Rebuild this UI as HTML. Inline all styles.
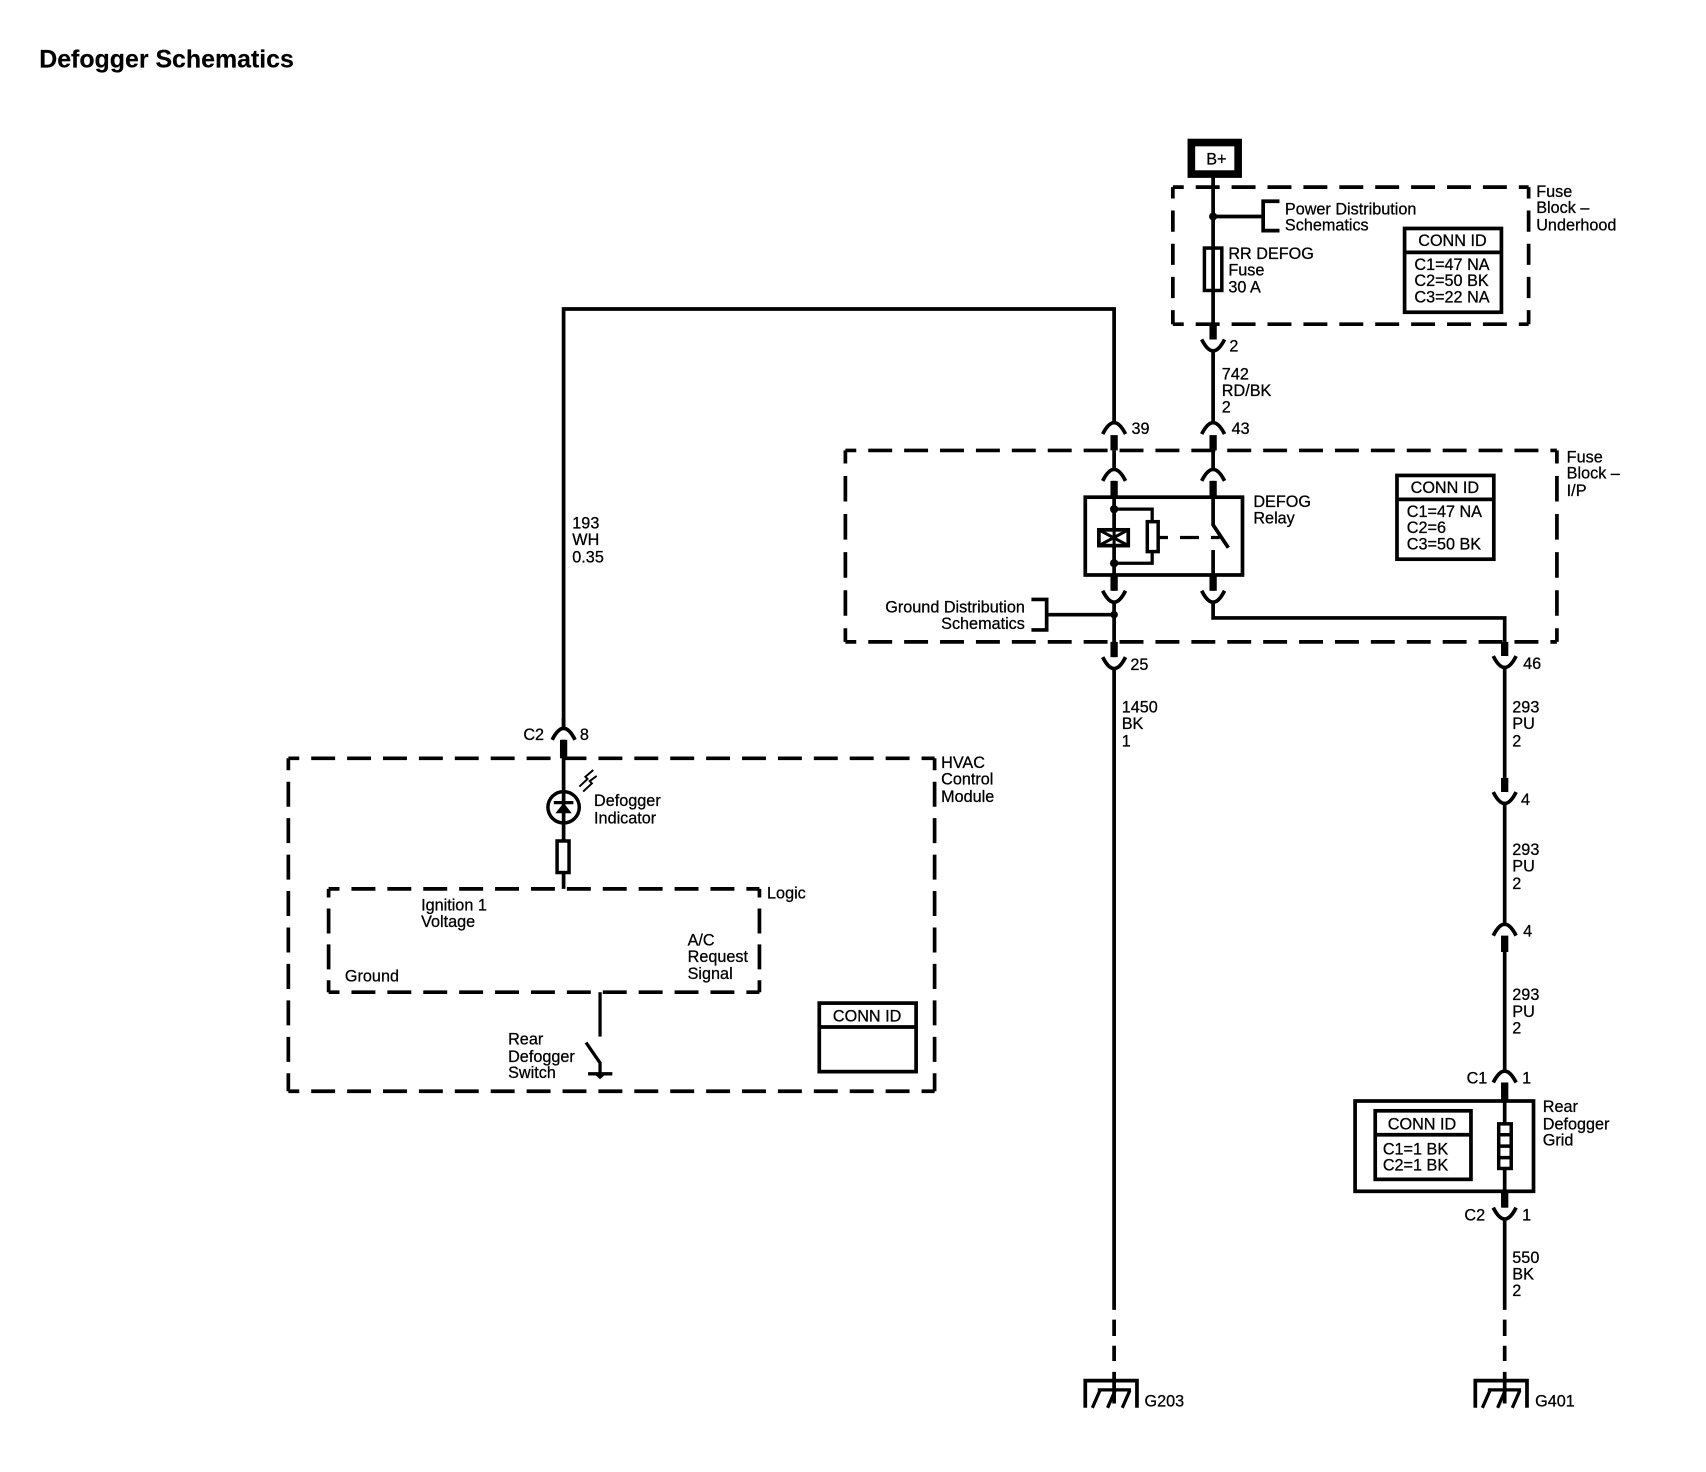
<!DOCTYPE html>
<html lang="en"><head><meta charset="utf-8"><title>Defogger Schematics</title>
<style>
html,body{margin:0;padding:0;background:#fff;width:1706px;height:1472px;overflow:hidden}
svg{display:block}
text{font-family:"Liberation Sans",Arial,sans-serif;font-size:14.9px;fill:#000;stroke:#000;stroke-width:.25}
.t{font-size:22.9px;font-weight:bold;stroke-width:.15}
.w,.b,.a,.d,.v,.n{fill:none;stroke:#000}
.w{stroke-width:3.4}.b{stroke-width:6.7}.a{stroke-width:3.4}.n{stroke-width:3}
.d{stroke-width:3.4;stroke-dasharray:22 11;stroke-dashoffset:12}
.v{stroke-width:3.4}
.f{fill:#fff;stroke:#000;stroke-width:3.2}
</style></head><body>
<svg width="1706" height="1472" viewBox="0 0 1568 1353" xmlns="http://www.w3.org/2000/svg">
<rect width="1568" height="1353" fill="#fff"/>
<text class="t" x="36" y="62">Defogger Schematics</text>

<!-- dashed boxes -->
<path class="d" d="M1078 172H1405M1078 298H1405"/>
<path class="v" stroke-dasharray="19.5 11" stroke-dashoffset="9" d="M1078 172V298M1405 172V298"/>
<path class="d" d="M777 414H1431M777 590H1431"/>
<path class="v" stroke-dasharray="23.5 11.5" stroke-dashoffset="11.5" d="M777 414V590M1431 414V590"/>
<path class="d" d="M265 697H859M265 1003H859"/>
<path class="v" stroke-dasharray="23 10.5" stroke-dashoffset="12" d="M265 697V1003M859 697V1003"/>
<path class="d" d="M302 817H698M302 912H698"/>
<path class="v" stroke-dasharray="23 10" stroke-dashoffset="15" d="M302 817V912M698 817V912"/>

<!-- B+ -->
<rect x="1095" y="131" width="43" height="29" fill="#fff" stroke="#000" stroke-width="7"/>
<text x="1118" y="151" text-anchor="middle">B+</text>

<!-- wire B+ to relay -->
<path class="w" d="M1115 163V312M1115 322.5V388.5M1115 414V431.5M1115 442V482.5L1129 503.5M1115 505.5V543M1115 553.5V568H1383V590"/>
<path class="b" d="M1115 298V312M1115 400V414M1115 442V457M1115 529V543"/>
<path class="a" d="M1104.5 312Q1115 333 1125.5 312M1104.5 399Q1115 378 1125.5 399M1104.5 442Q1115 421 1125.5 442M1104.5 543Q1115 564 1125.5 543"/>
<rect class="f" x="1107" y="228" width="16" height="39"/>
<path class="w" d="M1115 228V268"/>
<circle cx="1115" cy="199" r="3.7"/>
<path class="w" d="M1115 199H1161M1176 185H1161V212H1176"/>

<!-- left wire -->
<path class="w" d="M518 670V284H1024V388.5M1024 414V431.5M1024 442V543M1024 553.5V604M1024 614.5V1204M1024 1213V1228M1024 1237V1251M1024 1261V1290"/>
<path class="b" d="M1024 400V414M1024 442V457M1024 529V543M1024 590V604"/>
<path class="a" d="M1013.5 399Q1024 378 1034.5 399M1013.5 442Q1024 421 1034.5 442M1013.5 543Q1024 564 1034.5 543M1013.5 604Q1024 625 1034.5 604"/>

<!-- relay -->
<rect x="997.5" y="457" width="144.5" height="71.5" fill="none" stroke="#000" stroke-width="3.4"/>
<rect x="1010" y="487" width="27" height="14.5" fill="#fff" stroke="#000" stroke-width="3.4"/>
<path stroke="#000" stroke-width="2.8" d="M1010 487L1037 501.5M1037 487L1010 501.5M1024 487V502"/>
<circle cx="1024" cy="468" r="3.8"/><circle cx="1024" cy="517.7" r="3.8"/>
<path class="n" d="M1024 468H1059V480M1024 517.7H1059V506"/>
<rect class="f" x="1054.5" y="479.5" width="10" height="27.5"/>
<path class="n" d="M1065 494H1073.5M1084.6 494H1102M1113 494H1121"/>
<circle cx="1024" cy="565" r="3.5"/>
<path class="w" d="M948 551H962V579H948M962 565H1024"/>

<!-- right wire -->
<path class="w" d="M1383 590V603M1383 613.5V715M1383 738.5V849.5M1383 875V984.5M1383 995V1110M1383 1120.5V1204M1383 1213V1228M1383 1237V1251M1383 1261V1290"/>
<path class="b" d="M1383 590V603M1383 715V728M1383 860V875M1383 995V1012M1383 1095V1110"/>
<path class="a" d="M1372.5 603Q1383 624 1393.5 603M1372.5 728Q1383 749 1393.5 728M1372.5 860Q1383 839 1393.5 860M1372.5 995Q1383 974 1393.5 995M1372.5 1110Q1383 1131 1393.5 1110"/>
<rect x="1245.5" y="1012" width="164" height="83" fill="none" stroke="#000" stroke-width="3.4"/>
<rect class="f" x="1377.5" y="1033" width="11.5" height="41"/>
<path stroke="#000" stroke-width="3.2" d="M1377 1043H1390M1377 1053.5H1390M1377 1064H1390"/>

<!-- grounds -->
<path class="w" d="M997.5 1294V1269H1045V1294"/>
<path class="n" d="M1009 1277.5H1039.5M1011 1278L1004 1294M1025 1278L1018 1294M1038.5 1278L1031.5 1294"/>
<g transform="translate(358.5 0)"><path class="w" d="M997.5 1294V1269H1045V1294"/>
<path class="n" d="M1009 1277.5H1039.5M1011 1278L1004 1294M1025 1278L1018 1294M1038.5 1278L1031.5 1294"/></g>

<!-- HVAC -->
<path class="w" d="M518 680V817"/><path class="b" d="M518 680V697"/>
<path class="a" d="M507.5 680Q518 659 528.5 680"/><path class="w" d="M518 660V670"/>
<circle cx="518" cy="742" r="14.4" fill="#fff" stroke="#000" stroke-width="3.2"/>
<path class="w" d="M518 727V757"/>
<path d="M510.5 747.5H525.5L518 738Z"/><path class="n" d="M509 737.7H527"/>
<path fill="none" stroke="#000" stroke-width="1.8" d="M532.5 723L540 716L538 714L545.3 707.8M536 727.6L544 720L542 718L548.4 713.2"/>
<rect class="f" x="512" y="773" width="11" height="29"/>
<path class="n" d="M551.5 912V952.8"/>
<path class="n" d="M538.6 958.3L551.5 977V988"/><path class="n" d="M540.5 987H562.8"/>
<path d="M547 988H556L551.5 992Z"/>

<!-- CONN boxes -->
<g fill="#fff" stroke="#000" stroke-width="3.4">
<rect x="1291" y="210" width="89" height="77"/><path d="M1291 232H1380"/>
<rect x="1284" y="437" width="89" height="77"/><path d="M1284 459H1373"/>
<rect x="753" y="922" width="89" height="63"/><path d="M753 944H842"/>
<rect x="1264" y="1021" width="88" height="63"/><path d="M1264 1043H1352"/>
</g>

<text x="1335" y="226" text-anchor="middle">CONN ID</text><text x="1300" y="248">C1=47 NA</text><text x="1300" y="263">C2=50 BK</text><text x="1300" y="278">C3=22 NA</text>
<text x="1328" y="453" text-anchor="middle">CONN ID</text><text x="1293" y="475">C1=47 NA</text><text x="1293" y="490">C2=6</text><text x="1293" y="505">C3=50 BK</text>
<text x="797" y="939" text-anchor="middle">CONN ID</text>
<text x="1307" y="1038" text-anchor="middle">CONN ID</text><text x="1271" y="1061">C1=1 BK</text><text x="1271" y="1076">C2=1 BK</text>

<text x="1412" y="181">Fuse</text><text x="1412" y="196">Block –</text><text x="1412" y="212">Underhood</text>
<text x="1181" y="197">Power Distribution</text><text x="1181" y="212">Schematics</text>
<text x="1129" y="238">RR DEFOG</text><text x="1129" y="253">Fuse</text><text x="1129" y="269">30 A</text>
<text x="1130" y="323">2</text>
<text x="1123" y="349">742</text><text x="1123" y="364">RD/BK</text><text x="1123" y="379">2</text>
<text x="1040" y="399">39</text><text x="1132" y="399">43</text>
<text x="1440" y="425">Fuse</text><text x="1440" y="440">Block –</text><text x="1440" y="456">I/P</text>
<text x="1152" y="466">DEFOG</text><text x="1152" y="481">Relay</text>
<text x="942" y="563" text-anchor="end">Ground Distribution</text><text x="942" y="578" text-anchor="end">Schematics</text>
<text x="526" y="486">193</text><text x="526" y="501">WH</text><text x="526" y="517">0.35</text>
<text x="1039" y="616">25</text><text x="1400" y="615">46</text>
<text x="1031" y="655">1450</text><text x="1031" y="670">BK</text><text x="1031" y="686">1</text>
<text x="1390" y="655">293</text><text x="1390" y="670">PU</text><text x="1390" y="686">2</text>
<text x="1398" y="740">4</text>
<text x="1390" y="786">293</text><text x="1390" y="801">PU</text><text x="1390" y="817">2</text>
<text x="1400" y="861">4</text>
<text x="1390" y="919">293</text><text x="1390" y="935">PU</text><text x="1390" y="950">2</text>
<text x="1348" y="996">C1</text><text x="1399" y="996">1</text>
<text x="1418" y="1022">Rear</text><text x="1418" y="1038">Defogger</text><text x="1418" y="1053">Grid</text>
<text x="1346" y="1122">C2</text><text x="1399" y="1122">1</text>
<text x="1390" y="1161">550</text><text x="1390" y="1176">BK</text><text x="1390" y="1191">2</text>
<text x="1052" y="1293" font-size="13.6">G203</text><text x="1411" y="1293" font-size="13.6">G401</text>
<text x="481" y="680">C2</text><text x="533" y="680">8</text>
<text x="865" y="706">HVAC</text><text x="865" y="721">Control</text><text x="865" y="737">Module</text>
<text x="546" y="741">Defogger</text><text x="546" y="757">Indicator</text>
<text x="705" y="826">Logic</text>
<text x="387" y="837">Ignition 1</text><text x="387" y="852">Voltage</text>
<text x="632" y="869">A/C</text><text x="632" y="884">Request</text><text x="632" y="900">Signal</text>
<text x="317" y="902">Ground</text>
<text x="467" y="960">Rear</text><text x="467" y="976">Defogger</text><text x="467" y="991">Switch</text>
</svg>
</body></html>
